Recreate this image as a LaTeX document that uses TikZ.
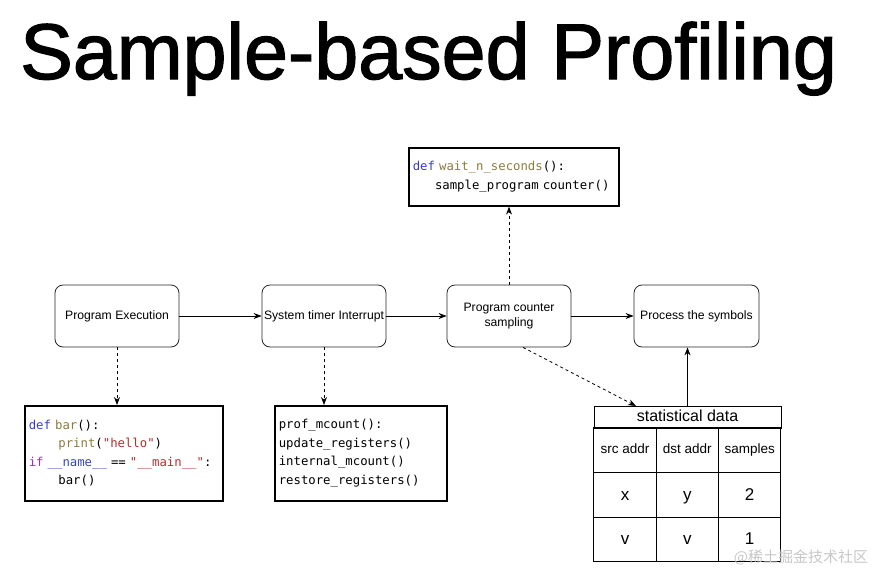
\documentclass[tikz,border=0pt]{standalone}
\usepackage{fontspec}
\setmainfont{Liberation Sans}
\setmonofont[WordSpace={1,0,0}]{DejaVu Sans Mono}
\newfontfamily\cjk{Noto Sans CJK SC}
\newfontfamily\titlefont[FakeBold=1.6]{Liberation Sans}
\usetikzlibrary{arrows.meta}

\definecolor{pykw}{HTML}{3A3AD0}
\definecolor{pyfn}{HTML}{8C7B3E}
\definecolor{pystr}{HTML}{B0302E}
\definecolor{pyif}{HTML}{A030C0}
\definecolor{pyvar}{HTML}{3548B8}

\begin{document}
\begin{tikzpicture}[x=1pt,y=-1pt,
  stage/.style={draw=black!85, line width=0.8pt, rounded corners=8pt,
    minimum width=124pt, minimum height=62pt, inner sep=1pt,
    align=center, font=\fontsize{12.2}{14.5}\selectfont},
  code/.style={draw, line width=1.6pt, anchor=north west, align=left,
    inner xsep=4pt, font=\ttfamily\fontsize{12.3}{18.5}\selectfont},
  cell/.style={draw, line width=0.9pt, minimum width=62.3pt,
    minimum height=44.7pt, inner sep=0pt, text height=10pt, text depth=3pt,
    font=\fontsize{13.5}{16}\selectfont},
  bigcell/.style={cell, text height=12.2pt, text depth=1.6pt,
    font=\fontsize{17}{20}\selectfont},
  flow/.style={-{Stealth[length=8pt,width=6pt]}, line width=0.8pt},
  probe/.style={flow, dashed}]

\useasboundingbox (0,0) rectangle (875,579);

% Title
\node[anchor=base west, inner sep=0pt, font=\titlefont\fontsize{79}{90}\selectfont]
  (title) at (20,79) {Sample-based Profiling};

% Stages
\node[stage] (exec) at (117,316) {Program Execution};
\node[stage] (timer) at (324,316) {System timer Interrupt};
\node[stage] (pcs) at (509,316) {Program counter\\sampling};
\node[stage, minimum width=125pt] (symbols) at (696.5,316) {Process the symbols};

% Code snippets
\node[code, minimum width=210pt, minimum height=58pt, text width=202pt]
  (waitcode) at (408,147) {\textcolor{pykw}{def} \textcolor{pyfn}{wait\_n\_seconds}():\\
  \phantom{xxx}sample\_program counter()};

\node[code, minimum width=198pt, minimum height=95pt, text width=190pt]
  (barcode) at (24,405) {\textcolor{pykw}{def} \textcolor{pyfn}{bar}():\\
  \phantom{xxxx}\textcolor{pyfn}{print}(\textcolor{pystr}{"hello"})\\
  \textcolor{pyif}{if} \textcolor{pyvar}{\_\_name\_\_} == \textcolor{pystr}{"\_\_main\_\_"}:\\
  \phantom{xxxx}bar()};

\node[code, minimum width=172pt, minimum height=95pt, text width=164pt]
  (profcode) at (274,405) {prof\_mcount():\\
  update\_registers()\\
  internal\_mcount()\\
  restore\_registers()};

% Statistical data table
\node[cell, minimum width=187pt, minimum height=22pt, text height=11.5pt,
  text depth=3.5pt, font=\fontsize{16}{18}\selectfont]
  (stathead) at (687.5,417) {statistical data};
\node[cell] (src) at (625,450) {src addr};
\node[cell] (dst) at (687.3,450) {dst addr};
\node[cell] (smp) at (749.7,450) {samples};
\node[bigcell] (x1) at (625,494.7) {x};
\node[bigcell] (y1) at (687.3,494.7) {y};
\node[bigcell] (n1) at (749.7,494.7) {2};
\node[bigcell] (x2) at (625,539.4) {v};
\node[bigcell] (y2) at (687.3,539.4) {v};
\node[bigcell] (n2) at (749.7,539.4) {1};
\coordinate (tin) at (636,406);

% Connectors
\draw[flow] (exec) -- (timer);
\draw[flow] (timer) -- (pcs);
\draw[flow] (pcs) -- (symbols);
\draw[probe] (pcs.north) -- (pcs.north |- waitcode.south);
\draw[probe] (exec.south) -- (exec.south |- barcode.north);
\draw[probe] (timer.south) -- (timer.south |- profcode.north);
\draw[probe] ([xshift=14pt]pcs.south) -- (tin);
\draw[flow] (stathead.north) -- (stathead.north |- symbols.south);

% Watermark
\node[text=black!22, font=\cjk\fontsize{15}{17}\selectfont] (mark) at (801,557) {@稀土掘金技术社区};

\end{tikzpicture}
\end{document}
